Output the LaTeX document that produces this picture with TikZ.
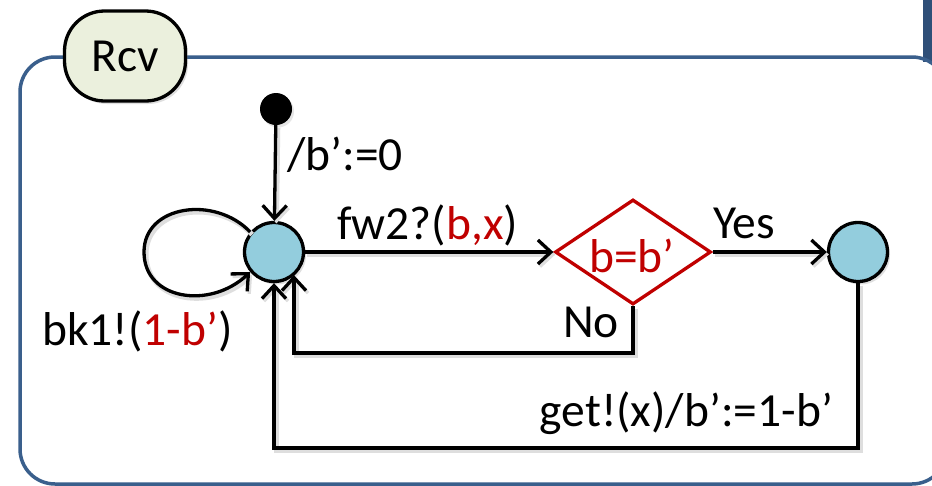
\documentclass[tikz,border=0pt]{standalone}
\usepackage{fontspec}
\setmainfont{Carlito}
\usetikzlibrary{arrows.meta,shapes.geometric,shadows}
\definecolor{cred}{HTML}{C00000}
\definecolor{sfill}{HTML}{93CDDD}
\definecolor{rfill}{HTML}{EBF0DD}
\definecolor{fblue}{HTML}{3A5F8C}
\definecolor{dblue}{HTML}{2F4F78}
\tikzset{
  arr/.style={-{Straight Barb[length=13pt,width=24pt,line width=3.3pt]}},
  conn/.style={line width=3.3pt, draw=black,
    preaction={draw=black!13, line width=5pt, transform canvas={shift={(2pt,-2.5pt)}}}},
  stnode/.style={circle, draw=black, line width=3.3pt, fill=sfill, minimum size=59pt, inner sep=0pt,
    drop shadow={shadow xshift=2.5pt, shadow yshift=-3pt, opacity=0.25}},
  lbl/.style={anchor=base west, inner sep=0pt},
  lblr/.style={anchor=base east, inner sep=0pt},
  framestyle/.style={draw=fblue, line width=3.5pt, rounded corners=35pt}
}
\begin{document}
\begin{tikzpicture}[x=1pt,y=-1pt,font=\fontsize{47.5}{56}\selectfont]
\useasboundingbox (0,0) rectangle (932,485);
\clip (0,0) rectangle (932,485);
\fill[white] (0,0) rectangle (932,485);
% dark bar top right
\fill[dblue] (923,0) rectangle (934,62);
% frame
\draw[framestyle] (20,57) rectangle (947,484);
% Rcv tab
\node[draw=black, line width=3.3pt, fill=rfill, rounded corners=40pt,
      minimum width=121pt, minimum height=90pt, inner sep=0pt,
      drop shadow={shadow xshift=2.5pt, shadow yshift=-3pt, opacity=0.25}] (rcv) at (125,56) {Rcv};
% nodes
\node[circle, fill=black, minimum size=32pt, inner sep=0pt,
      drop shadow={shadow xshift=2pt, shadow yshift=-2.5pt, opacity=0.2}] (init) at (276,109) {};
\node[stnode] (s1) at (274,252) {};
\node[stnode] (s2) at (858,252) {};
\node[diamond, draw=cred, line width=3.3pt, fill=white, minimum width=156pt, minimum height=105pt,
      inner sep=0pt] (d) at (633,252) {};
\node[text=cred, inner sep=0pt] (dtext) at (632,256) {b=b’};
\coordinate (nb) at (294,353);
\coordinate (gb) at (274,448);
% connectors
\draw[conn, arr] (init) -- (s1);
\draw[conn, arr] (s1.140) .. controls (215,195) and (144,205) .. (144,252)
                 .. controls (144,300) and (210,310) .. (s1.220);
\draw[conn, arr] (s1) -- (d);
\draw[conn, arr] (d) -- (s2);
\draw[conn, arr] (d.south) |- (nb) -- (nb |- s1.-48);
\draw[conn, arr] (s2.south) |- (gb) -- (s1.south);
% labels
\node[lbl] (l1) at (287,170) {/b’:=0};
\node[lbl] (l2) at (42,345) {bk1!(\textcolor{cred}{1-b’})};
\node[lbl] (l3) at (337,239) {fw2?(\textcolor{cred}{b,x})};
\node[lbl] (l4) at (713,238) {Yes};
\node[lblr] (l5) at (619,337) {No};
\node[lblr] (l6) at (833,426) {get!(x)/b’:=1-b’};
\end{tikzpicture}
\end{document}
